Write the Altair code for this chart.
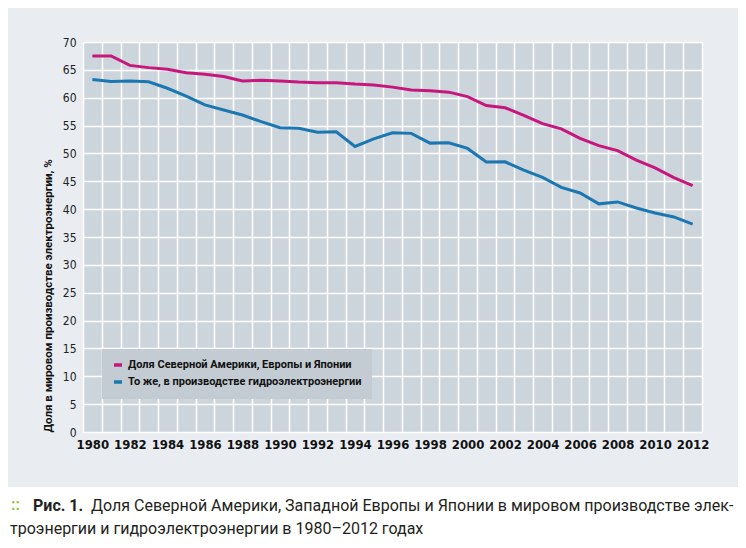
import json
import altair as alt
import pandas as pd

# ---- data ----
years = list(range(1980, 2013))
share_total = [67.5, 67.5, 65.8, 65.4, 65.1, 64.5, 64.2, 63.8, 63.0, 63.15,
               63.0, 62.8, 62.7, 62.7, 62.45, 62.3, 61.9, 61.4, 61.25, 61.0,
               60.2, 58.6, 58.2, 56.85, 55.35, 54.4, 52.7, 51.4, 50.5, 48.8,
               47.4, 45.65, 44.2]
share_hydro = [63.25, 62.9, 63.0, 62.85, 61.7, 60.3, 58.7, 57.8, 56.9, 55.7,
               54.6, 54.5, 53.8, 53.9, 51.25, 52.6, 53.7, 53.6, 51.85, 51.9,
               50.9, 48.45, 48.5, 47.0, 45.7, 43.9, 42.9, 40.95, 41.3, 40.2,
               39.3, 38.6, 37.3]
series_names = ["Доля Северной Америки, Европы и Японии",
                "То же, в производстве гидроэлектроэнергии"]
series_colors = ["#c8177c", "#1b77b1"]
y_ticks = list(range(0, 71, 5))
x_label_years = list(range(1980, 2013, 2))
x_grid = [y - 0.5 for y in years] + [years[-1] + 0.5]
y_title = "Доля в мировом производстве электроэнергии, %"
caption_bold = "Рис. 1."
caption_line1 = "Доля Северной Америки, Западной Европы и Японии в мировом производстве элек-"
caption_line2 = "троэнергии и гидроэлектроэнергии в 1980–2012 годах"

df = pd.DataFrame({
    "year": years * 2,
    "value": share_total + share_hydro,
    "series": [series_names[0]] * len(years) + [series_names[1]] * len(years),
})

NARROW = "'DejaVu Sans Condensed', 'Liberation Sans Narrow', sans-serif"
BOLDF = "Roboto, 'Noto Sans', sans-serif"
CAP = "Roboto, 'Noto Sans', sans-serif"
W, H = 619, 390

label_expr = ("indexof(%s, datum.value + 0.5) >= 0 ? '' + (datum.value + 0.5) : ''"
              % json.dumps(x_label_years))

lines = alt.Chart(df).mark_line(strokeWidth=3).encode(
    x=alt.X("year:Q",
            scale=alt.Scale(domain=[years[0] - 0.5, years[-1] + 0.5], nice=False, zero=False),
            axis=alt.Axis(values=x_grid, labelExpr=label_expr, labelOffset=W / 33 / 2,
                          grid=True, gridColor="white", gridWidth=1.5,
                          domain=False, ticks=False, labelAngle=0,
                          labelFont=NARROW, labelFontSize=13, labelFontWeight="bold",
                          labelColor="#111", labelPadding=6, labelOverlap=False,
                          labelFlush=False, labelBound=False, title=None)),
    y=alt.Y("value:Q",
            scale=alt.Scale(domain=[0, 70], nice=False),
            axis=alt.Axis(values=y_ticks, grid=True, gridColor="white", gridWidth=1.5,
                          domain=False, ticks=False,
                          labelFont=NARROW, labelFontSize=12, labelColor="#222",
                          labelPadding=7, title=y_title, titleFont=BOLDF,
                          titleFontSize=11.5, titleFontWeight="bold", titleColor="#111",
                          titlePadding=9, titleAnchor="start")),
    color=alt.Color("series:N",
                    scale=alt.Scale(domain=series_names, range=series_colors),
                    legend=alt.Legend(title=None, orient="none", legendX=19, legendY=307,
                                      fillColor="#c3cbd3", padding=10, rowPadding=3,
                                      symbolType="stroke", symbolStrokeWidth=3.5,
                                      symbolSize=64, labelFont=BOLDF, labelFontSize=11,
                                      labelFontWeight="bold", labelColor="#111",
                                      labelLimit=400, labelOffset=4)),
)

one = alt.Data(values=[{}])
white_area = alt.Chart(one).mark_rect(color="white").encode(
    x=alt.value(-75), x2=alt.value(W + 40), y=alt.value(H + 55), y2=alt.value(H + 120))

dots = alt.Chart(one).mark_text(text="::", font=CAP, fontSize=16, fontWeight="bold",
                                color="#8cc63f", align="left",
                                baseline="alphabetic").encode(
    x=alt.value(-72), y=alt.value(H + 78))
cap_b = alt.Chart(one).mark_text(text=caption_bold, font=CAP, fontSize=16,
                                 fontWeight="bold", color="#231f20", align="left",
                                 baseline="alphabetic").encode(
    x=alt.value(-50), y=alt.value(H + 79))
cap_1 = alt.Chart(one).mark_text(text=caption_line1, font=CAP, fontSize=16,
                                 color="#231f20", align="left",
                                 baseline="alphabetic").encode(
    x=alt.value(8), y=alt.value(H + 79))
cap_2 = alt.Chart(one).mark_text(text=caption_line2, font=CAP, fontSize=16,
                                 color="#231f20", align="left",
                                 baseline="alphabetic").encode(
    x=alt.value(-73), y=alt.value(H + 102))

chart = alt.layer(white_area, lines, dots, cap_b, cap_1, cap_2).properties(
    width=W, height=H,
    padding={"left": 75, "top": 34, "right": 36, "bottom": 108},
    autosize=alt.AutoSizeParams(type="none"),
    background="#e9edf1",
).configure_view(fill="#cdd5dc", stroke=None)

chart.save("out.html", embed_options={"renderer": "svg", "actions": False})
